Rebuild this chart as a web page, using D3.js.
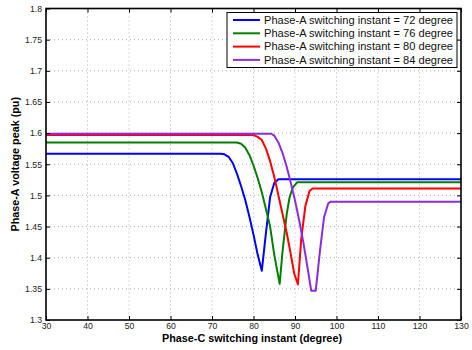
<!DOCTYPE html>
<html>
<head>
<meta charset="utf-8">
<script src="https://cdn.jsdelivr.net/npm/d3@7"></script>
<style>
  html, body { margin: 0; padding: 0; background: #fff; }
  svg { display: block; font-family: "Liberation Sans", Arial, sans-serif; }
</style>
</head>
<body>
<svg id="chart" width="472" height="350"></svg>
<script>
// Phase-C switching instant (degree) vs. Phase-A voltage peak (pu)
const seriesNames = [
  "Phase-A switching instant = 72 degree",
  "Phase-A switching instant = 76 degree",
  "Phase-A switching instant = 80 degree",
  "Phase-A switching instant = 84 degree"
];
const seriesColors = ["#0000ff", "#008000", "#ff0000", "#8b2be2"];

const sw72 = [[30,1.567],[72,1.567],[73,1.566],[74,1.562],[75,1.552],[76,1.535],[77,1.515],[78,1.493],[79,1.466],[80,1.437],[81,1.405],[82,1.379],[83,1.44],[84,1.497],[85,1.52],[86,1.526],[130,1.526]];
const sw76 = [[30,1.585],[76,1.585],[77,1.583],[78,1.577],[79,1.565],[80,1.548],[81,1.528],[82,1.505],[83,1.478],[84,1.45],[85,1.405],[86.3,1.358],[87,1.41],[88,1.47],[88.7,1.497],[89.5,1.513],[90.5,1.521],[130,1.521]];
const sw80 = [[30,1.597],[80,1.597],[81,1.594],[82,1.589],[83,1.575],[84,1.555],[85,1.53],[86,1.5],[87,1.47],[88,1.44],[89,1.405],[89.8,1.375],[90.7,1.357],[91.5,1.43],[92.5,1.483],[93.5,1.507],[94.2,1.511],[130,1.511]];
const sw84 = [[30,1.599],[84.3,1.599],[85,1.596],[86,1.585],[87,1.568],[88,1.546],[89,1.52],[90,1.492],[91,1.46],[92,1.425],[93,1.385],[93.9,1.347],[95,1.347],[96,1.41],[97,1.465],[98,1.487],[98.6,1.49],[130,1.49]];
const seriesData = [sw72, sw76, sw80, sw84];

const xTicks = [30, 40, 50, 60, 70, 80, 90, 100, 110, 120, 130];
const yTicks = [1.3, 1.35, 1.4, 1.45, 1.5, 1.55, 1.6, 1.65, 1.7, 1.75, 1.8];

const xLabel = "Phase-C switching instant (degree)";
const yLabel = "Phase-A voltage peak (pu)";

const svg = d3.select("#chart");
const L = 46, R = 461, T = 8.5, B = 320;

const x = d3.scaleLinear().domain([30, 130]).range([L, R]);
const y = d3.scaleLinear().domain([1.3, 1.8]).range([B, T]);

// dotted grid
const grid = svg.append("g").attr("stroke", "#999").attr("stroke-width", 0.8)
  .attr("stroke-dasharray", "1,3");
grid.selectAll(".gx").data(xTicks.slice(1, -1)).join("line")
  .attr("x1", d => x(d)).attr("x2", d => x(d)).attr("y1", T).attr("y2", B);
grid.selectAll(".gy").data(yTicks.slice(1, -1)).join("line")
  .attr("y1", d => y(d)).attr("y2", d => y(d)).attr("x1", L).attr("x2", R);

// curves
const line = d3.line().x(d => x(d[0])).y(d => y(d[1]));
svg.append("g").selectAll("path").data(seriesData).join("path")
  .attr("d", line)
  .attr("fill", "none")
  .attr("stroke", (d, i) => seriesColors[i])
  .attr("stroke-width", 2)
  .attr("stroke-linejoin", "round");

// axes with inward ticks on all four sides
const fmt = d => String(+d.toFixed(2));
const axB = svg.append("g").attr("transform", `translate(0,${B})`)
  .call(d3.axisBottom(x).tickValues(xTicks).tickSizeInner(-4).tickSizeOuter(0).tickPadding(4).tickFormat(fmt));
const axT = svg.append("g").attr("transform", `translate(0,${T})`)
  .call(d3.axisTop(x).tickValues(xTicks).tickSizeInner(-4).tickSizeOuter(0).tickFormat(""));
const axL = svg.append("g").attr("transform", `translate(${L},0)`)
  .call(d3.axisLeft(y).tickValues(yTicks).tickSizeInner(-4).tickSizeOuter(0).tickPadding(4).tickFormat(fmt));
const axR = svg.append("g").attr("transform", `translate(${R},0)`)
  .call(d3.axisRight(y).tickValues(yTicks).tickSizeInner(-4).tickSizeOuter(0).tickFormat(""));

[axB, axT, axL, axR].forEach(g => {
  g.select(".domain").remove();
  g.selectAll("line").attr("stroke", "#000").attr("stroke-width", 1);
  g.selectAll("text").attr("font-size", 8.7).attr("fill", "#222")
    .attr("font-family", "'Liberation Sans', Arial, sans-serif");
});
axB.selectAll("text").attr("dy", "0.6em");

// frame
svg.append("rect").attr("x", L).attr("y", T).attr("width", R - L).attr("height", B - T)
  .attr("fill", "none").attr("stroke", "#000").attr("stroke-width", 1.6);

// axis titles
svg.append("text").attr("x", 252).attr("y", 342)
  .attr("text-anchor", "middle").attr("font-size", 10.8).attr("font-weight", "bold")
  .text(xLabel);
svg.append("text").attr("transform", `translate(19,${(T + B) / 2}) rotate(-90)`)
  .attr("text-anchor", "middle").attr("font-size", 10.8).attr("font-weight", "bold")
  .text(yLabel);

// legend
const lg = svg.append("g");
lg.append("rect").attr("x", 227).attr("y", 12.5).attr("width", 230).attr("height", 55)
  .attr("fill", "#fff").attr("stroke", "#000").attr("stroke-width", 1);
seriesNames.forEach((name, i) => {
  const yy = 20 + i * 13.3;
  lg.append("line").attr("x1", 233).attr("x2", 260).attr("y1", yy).attr("y2", yy)
    .attr("stroke", seriesColors[i]).attr("stroke-width", 2);
  lg.append("text").attr("x", 264).attr("y", yy).attr("dy", "0.35em")
    .attr("font-size", 11.1).attr("fill", "#111").text(name);
});
</script>
</body>
</html>
